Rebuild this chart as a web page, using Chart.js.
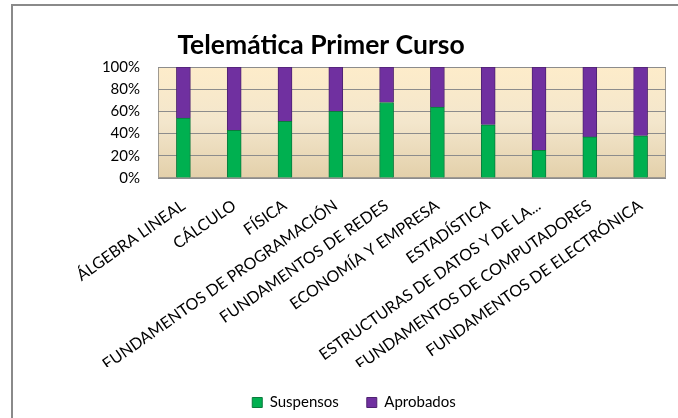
<!DOCTYPE html>
<html>
<head>
<meta charset="utf-8">
<script src="https://cdn.jsdelivr.net/npm/chart.js@4/dist/chart.umd.min.js"></script>
<style>
  html, body { margin: 0; padding: 0; background: #fff; }
  #wrap { width: 678px; height: 418px; position: relative; }
</style>
</head>
<body>
<div id="wrap"><canvas id="chart"></canvas></div>
<script>
// Categories (subjects)
const asignaturas = [
  'ÁLGEBRA LINEAL', 'CÁLCULO', 'FÍSICA', 'FUNDAMENTOS DE PROGRAMACIÓN',
  'FUNDAMENTOS DE REDES', 'ECONOMÍA Y EMPRESA', 'ESTADÍSTICA',
  'ESTRUCTURAS DE DATOS Y DE LA...', 'FUNDAMENTOS DE COMPUTADORES',
  'FUNDAMENTOS DE ELECTRÓNICA'
];

// Percent of students per subject
const suspensos = [54, 43, 51, 60, 68, 64, 48, 25, 37, 38];
const aprobados = [46, 57, 49, 40, 32, 36, 52, 75, 63, 62];

const yTicks = [0, 20, 40, 60, 80, 100];
const titulo = 'Telemática Primer Curso';

// Chart frame, beige plot background and the title
const backdrop = {
  id: 'backdrop',
  beforeDraw(chart) {
    const ctx = chart.ctx;
    const a = chart.chartArea;
    ctx.save();
    ctx.fillStyle = '#fff';
    ctx.fillRect(0, 0, chart.width, chart.height);
    ctx.strokeStyle = '#8a8a8a';
    ctx.lineWidth = 2;
    ctx.beginPath();
    ctx.moveTo(12, chart.height);
    ctx.lineTo(12, 5);
    ctx.lineTo(chart.width, 5);
    ctx.stroke();
    const g = ctx.createLinearGradient(0, a.top, 0, a.bottom);
    g.addColorStop(0, '#fdecca');
    g.addColorStop(0.5, '#f3e6cc');
    g.addColorStop(1, '#e3d0aa');
    ctx.fillStyle = g;
    ctx.fillRect(a.left, a.top, a.right - a.left, a.bottom - a.top);
    ctx.strokeStyle = '#a09a90';
    ctx.lineWidth = 1;
    ctx.strokeRect(a.left + 0.5, a.top + 0.5, a.right - a.left - 1, a.bottom - a.top - 1);

    ctx.fillStyle = '#000';
    ctx.font = 'bold 26.5px Lato';
    ctx.textAlign = 'center';
    ctx.textBaseline = 'alphabetic';
    ctx.fillText(titulo, 321, 54);
    ctx.restore();
  }
};

new Chart(document.getElementById('chart'), {
  type: 'bar',
  data: {
    labels: asignaturas,
    datasets: [
      {
        label: 'Suspensos',
        data: suspensos,
        backgroundColor: '#00b050',
        borderColor: '#0b7a3c',
        borderWidth: 1,
        barThickness: 14
      },
      {
        label: 'Aprobados',
        data: aprobados,
        backgroundColor: '#7030a0',
        borderColor: '#4e2270',
        borderWidth: 1,
        barThickness: 14
      }
    ]
  },
  options: {
    responsive: true,
    maintainAspectRatio: false,
    animation: false,
    layout: { padding: { left: 42, right: 12, top: 67, bottom: 0 } },
    plugins: {
      title: { display: false },
      legend: {
        position: 'bottom',
        maxHeight: 51,
        labels: {
          color: '#000',
          font: { family: 'Lato', size: 15 },
          boxWidth: 10,
          boxHeight: 10,
          padding: 28
        }
      },
      tooltip: { enabled: false }
    },
    scales: {
      x: {
        stacked: true,
        grid: { display: false },
        border: { display: false },
        ticks: {
          color: '#000',
          font: { family: 'Lato', size: 16 },
          minRotation: 35,
          maxRotation: 35,
          autoSkip: false,
          padding: 10
        },
        afterFit(scale) { scale.height = 189; }
      },
      y: {
        stacked: true,
        min: 0,
        max: 100,
        afterBuildTicks(scale) {
          scale.ticks = yTicks.map(v => ({ value: v }));
        },
        grid: { color: '#8c8c8c', drawTicks: false },
        border: { display: false },
        ticks: {
          color: '#000',
          font: { family: 'Lato', size: 15 },
          padding: 18,
          callback: v => v + '%'
        },
        afterFit(scale) { scale.width = 116; }
      }
    }
  },
  plugins: [backdrop]
});
</script>
</body>
</html>
